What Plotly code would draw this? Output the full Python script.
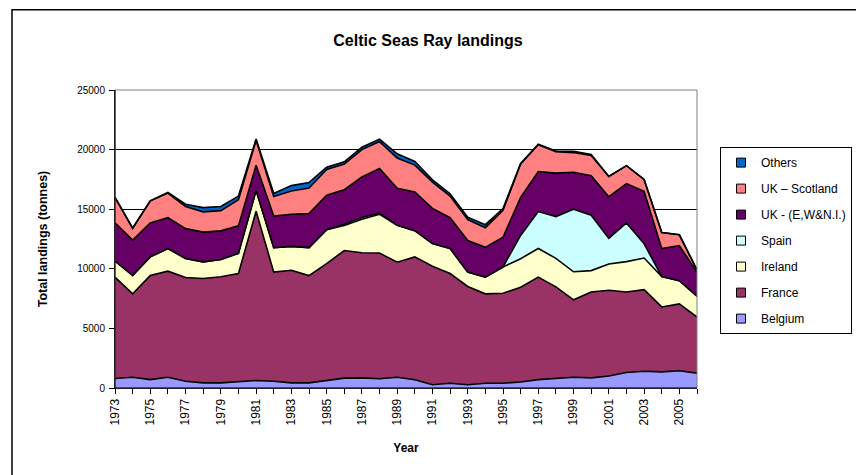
import plotly.graph_objects as go

years = list(range(1973, 2007))

belgium = [800, 900, 700, 900, 570, 430, 430, 500, 630, 570, 430, 430, 630, 830, 850, 770, 900,
           700, 270, 400, 270, 400, 400, 500, 700, 830, 900, 850, 1000, 1300, 1400, 1350, 1450, 1250]
france = [8500, 7000, 8750, 8900, 8700, 8750, 8900, 9100, 14200, 9150, 9450, 9000, 9800, 10700, 10500,
          10550, 9650, 10300, 9950, 9200, 8250, 7500, 7550, 7950, 8600, 7650, 6500, 7200, 7200, 6750,
          6850, 5450, 5600, 4700]
ireland = [1350, 1550, 1550, 1900, 1600, 1400, 1450, 1700, 1750, 2050, 2000, 2350, 2850, 2100, 2800,
           3250, 3100, 2200, 1900, 2100, 1200, 1400, 2200, 2400, 2400, 2400, 2350, 1800, 2200, 2550,
           2650, 2550, 1950, 1750]
spain = [0, 0, 0, 0, 0, 0, 0, 0, 0, 0, 0, 0, 0, 100, 150, 100, 0, 0, 0, 0, 0, 0, 0, 1950, 3100, 3500,
         5250, 4650, 2150, 3250, 1200, 0, 0, 0]
uk_ewni = [3200, 2950, 2850, 2600, 2500, 2500, 2400, 2300, 2100, 2650, 2700, 2850, 2900, 2900, 3400,
           3750, 3100, 3250, 2950, 2600, 2650, 2500, 2500, 3200, 3350, 3650, 3100, 3300, 3500, 3300,
           4400, 2350, 2950, 2000]
uk_scotland = [2150, 1000, 1850, 2050, 1850, 1700, 1700, 2200, 2100, 1650, 1950, 2150, 2150, 2150, 2300,
               2250, 2550, 2250, 2200, 1800, 1750, 1650, 2250, 2800, 2250, 1800, 1650, 1700, 1700, 1500,
               1000, 1350, 900, 200]
others = [0, 0, 0, 50, 200, 350, 350, 300, 100, 250, 450, 450, 200, 200, 200, 200, 350, 300, 200, 200,
          200, 250, 150, 50, 50, 50, 100, 100, 0, 0, 0, 0, 0, 0]

series = [
    ("Belgium", belgium, "#9999FF"),
    ("France", france, "#993366"),
    ("Ireland", ireland, "#FFFFCC"),
    ("Spain", spain, "#CCFFFF"),
    ("UK - (E,W&N.I.)", uk_ewni, "#660066"),
    ("UK \u2013 Scotland", uk_scotland, "#FF8080"),
    ("Others", others, "#0066CC"),
]

FONT = "Liberation Sans, Arial, sans-serif"

fig = go.Figure()
for name, vals, col in series:
    fig.add_trace(go.Scatter(
        x=years, y=vals, name=name, stackgroup="one", mode="lines",
        line=dict(color="black", width=1.6), fillcolor=col, showlegend=False,
        hoverinfo="x+y+name",
    ))
# legend entries (top to bottom: Others ... Belgium)
for i, (name, vals, col) in enumerate(reversed(series)):
    fig.add_trace(go.Scatter(
        x=[None], y=[None], name=name, mode="markers",
        marker=dict(symbol="square", size=9, color=col, line=dict(color="black", width=1)),
        legendgroup=f"g{i}", showlegend=True,
    ))

tick_text = [str(y) if (y - 1973) % 2 == 0 else "" for y in years]

fig.update_layout(
    width=856, height=475,
    margin=dict(l=115, r=159, t=90, b=87, autoexpand=False),
    paper_bgcolor="white", plot_bgcolor="white",
    font=dict(family=FONT, size=11, color="black"),
    title=dict(text="<b>Celtic Seas Ray landings</b>", x=0.5, xref="container", xanchor="center",
               y=1 - 40 / 475, yref="container", yanchor="middle",
               font=dict(family=FONT, size=16, color="black")),
    xaxis=dict(range=[1973, 2006], tickvals=years, ticktext=tick_text, tickangle=-90,
               ticks="outside", ticklen=5, tickcolor="black", showline=True, linecolor="black",
               linewidth=1, showgrid=False, zeroline=False,
               tickfont=dict(size=12, family=FONT),
               title=dict(text="<b>Year</b>", font=dict(size=12, family=FONT), standoff=19)),
    yaxis=dict(range=[0, 25000], dtick=5000, tickformat="d", ticks="outside", ticklen=5,
               tickcolor="black", ticklabelstandoff=2,
               showline=True, linecolor="black", linewidth=1, showgrid=True, gridcolor="black",
               gridwidth=1, zeroline=False, tickfont=dict(size=10, family=FONT),
               title=dict(text="<b>Total landings (tonnes)</b>", font=dict(size=12.5, family=FONT),
                          standoff=26)),
    legend=dict(x=(720 - 115) / 582, xanchor="left", y=(387.5 - 147) / 297.5, yanchor="top",
                bordercolor="black", borderwidth=1, bgcolor="white",
                font=dict(size=12, family=FONT), itemwidth=30, tracegroupgap=7,
                traceorder="grouped"),
    shapes=[
        dict(type="rect", xref="paper", yref="paper", x0=0, x1=1, y0=0, y1=1,
             line=dict(color="#808080", width=1), layer="above"),
        dict(type="line", xref="paper", yref="paper", x0=0, x1=0, y0=0, y1=1,
             line=dict(color="black", width=1), layer="above"),
        dict(type="line", xref="paper", yref="paper", x0=0, x1=1, y0=0, y1=0,
             line=dict(color="black", width=1), layer="above"),
        dict(type="rect", xref="paper", yref="paper",
             x0=(12 - 115) / 582, x1=(880 - 115) / 582,
             y0=(387.5 - 500) / 297.5, y1=(387.5 - 10) / 297.5,
             line=dict(color="black", width=1.5), layer="below"),
    ],
)

fig.write_html("out.html")
